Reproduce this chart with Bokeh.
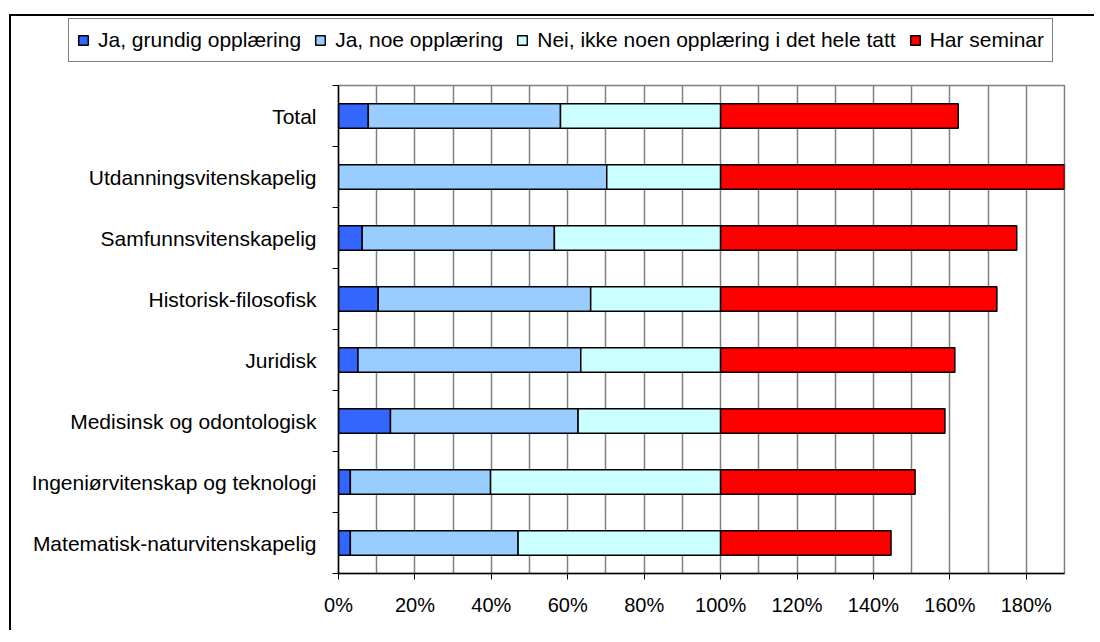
from bokeh.plotting import figure
from bokeh.models import ColumnDataSource, FixedTicker, NumeralTickFormatter, Range1d, Legend
from bokeh.embed import file_html
from bokeh.resources import INLINE

categories = ["Total", "Utdanningsvitenskapelig", "Samfunnsvitenskapelig", "Historisk-filosofisk",
              "Juridisk", "Medisinsk og odontologisk", "Ingeniørvitenskap og teknologi",
              "Matematisk-naturvitenskapelig"]
grundig = [7.8, 0.0, 6.2, 10.4, 5.1, 13.6, 3.1, 3.1]
noe = [50.3, 70.2, 50.3, 55.6, 58.3, 49.1, 36.7, 43.9]
ingen = [41.9, 29.8, 43.5, 34.0, 36.6, 37.3, 60.2, 53.0]
seminar = [62.2, 90.0, 77.5, 72.3, 61.3, 58.7, 50.9, 44.6]
series_names = ["Ja, grundig opplæring", "Ja, noe opplæring",
                "Nei, ikke noen opplæring i det hele tatt", "Har seminar"]
colors = ["#3366FF", "#99CCFF", "#CCFFFF", "#FF0000"]
x_ticks = [0.0, 0.2, 0.4, 0.6, 0.8, 1.0, 1.2, 1.4, 1.6, 1.8]

n = len(categories)
ypos = [n - 0.5 - i for i in range(n)]
source = ColumnDataSource(dict(
    y=ypos,
    s0=[v / 100 for v in grundig],
    s1=[v / 100 for v in noe],
    s2=[v / 100 for v in ingen],
    s3=[v / 100 for v in seminar],
))

FONT = "Liberation Sans"
W, H = 1085, 616
cx, cy = 11, 16
fl, fr, ft, fb = 338, 1064, 87, 575
LH = ft - cy - 2  # height of the legend strip

# legend strip (its own figure so the legend is not clipped by the plot frame)
lf = figure(width=W, height=LH, output_backend="svg", toolbar_location=None,
            x_range=Range1d(0, 1), y_range=Range1d(0, 1), min_border=0,
            x_axis_location=None, y_axis_location=None)
lf.grid.grid_line_color = None
lf.outline_line_color = None
proxy = [lf.hbar(y=[-5], right=[0], height=0.4, color=c, line_color="black", line_width=1.5)
         for c in colors]
legend = Legend(items=[(name, [r]) for name, r in zip(series_names, proxy)],
                orientation="horizontal", location=(68 - cx, LH - (62 - cy)),
                label_text_font=FONT, label_text_font_size="21px", label_text_color="black",
                glyph_width=12, glyph_height=12, label_standoff=9, spacing=13,
                padding=8, label_height=26, border_line_color="black",
                border_line_width=1, background_fill_alpha=1, margin=0)
lf.add_layout(legend, "center")
lf.styles = {"border-left": "2px solid black", "border-top": "2px solid black",
             "margin-left": "9px", "margin-top": "14px"}

p = figure(width=W, height=H - LH, output_backend="svg", toolbar_location=None,
           x_range=Range1d(0, 1.9), y_range=Range1d(0, n),
           min_border_left=fl - cx, min_border_right=cx + W - fr,
           min_border_top=2, min_border_bottom=cy + H - fb)
p.styles = {"border-left": "2px solid black", "margin-left": "9px"}

p.hbar_stack(["s0", "s1", "s2", "s3"], y="y", height=0.4, color=colors,
             line_color="black", line_width=1.5, source=source)

p.outline_line_color = "#808080"
p.outline_line_width = 1.5
p.ygrid.grid_line_color = None
p.xgrid.grid_line_color = "#808080"
p.xgrid.grid_line_width = 1.5
p.xgrid.minor_grid_line_color = "#808080"
p.xgrid.minor_grid_line_width = 1.5

p.xaxis.ticker = FixedTicker(ticks=x_ticks, minor_ticks=[0.1, 0.3, 0.5, 0.7, 0.9, 1.1, 1.3, 1.5, 1.7, 1.9])
p.xaxis.formatter = NumeralTickFormatter(format="0%")
p.xaxis.axis_line_color = "black"
p.xaxis.axis_line_width = 1.5
p.xaxis.major_tick_line_color = "black"
p.xaxis.major_tick_out = 6
p.xaxis.major_tick_in = 0
p.xaxis.minor_tick_line_color = None
p.xaxis.major_label_text_font = FONT
p.xaxis.major_label_text_font_size = "20px"
p.xaxis.major_label_text_color = "black"
p.xaxis.major_label_standoff = 14

p.yaxis.ticker = FixedTicker(ticks=ypos, minor_ticks=list(range(n + 1)))
p.yaxis.major_label_overrides = {y: c for y, c in zip(ypos, categories)}
p.yaxis.axis_line_color = "black"
p.yaxis.axis_line_width = 1.5
p.yaxis.major_tick_line_color = None
p.yaxis.major_tick_out = 0
p.yaxis.major_tick_in = 0
p.yaxis.minor_tick_line_color = "black"
p.yaxis.minor_tick_out = 6
p.yaxis.minor_tick_in = 0
p.yaxis.major_label_text_font = FONT
p.yaxis.major_label_text_font_size = "21px"
p.yaxis.major_label_text_color = "black"
p.yaxis.major_label_standoff = 16

open("out.html", "w").write(file_html([lf, p], INLINE))
